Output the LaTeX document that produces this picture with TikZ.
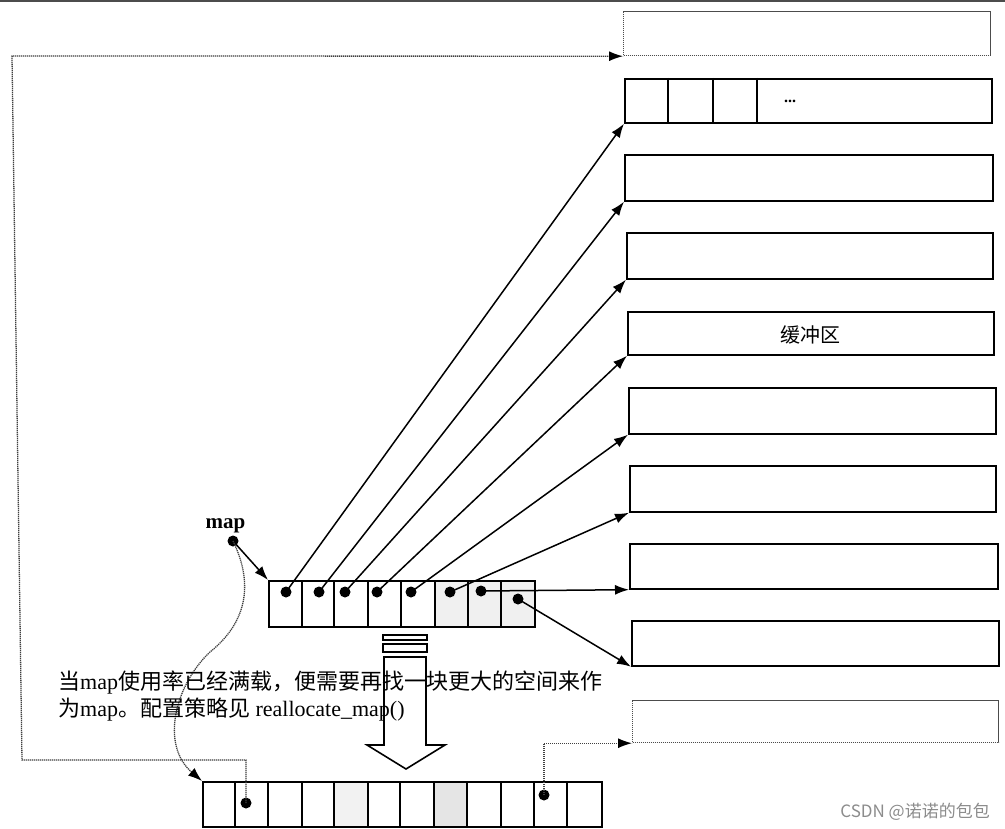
\documentclass[tikz,border=0pt]{standalone}
\usepackage{fontspec}
\setmainfont{Liberation Serif}
\newfontfamily\cjk{Noto Sans CJK SC}
\usetikzlibrary{arrows.meta}
\begin{document}
\begin{tikzpicture}[x=1pt,y=-1pt,
  box/.style={draw,line width=1.7pt,rectangle,inner sep=0pt,anchor=north west},
  dbox/.style={draw=black!70,line width=1.2pt,dash pattern=on 1.2pt off 0.8pt,rectangle,inner sep=0pt,anchor=north west},
  ptr/.style={line width=1.5pt,-{Latex[length=14pt,width=10pt]}},
  dotline/.style={draw=black!75,line width=1.3pt,dash pattern=on 1.2pt off 0.8pt},
  dotarrow/.style={dotline,-{Latex[length=14pt,width=10pt,color=black]}},
  pdot/.style={circle,fill=black,inner sep=0pt,minimum size=11pt},
  cellline/.style={line width=1.6pt},
]
\useasboundingbox (0,0) rectangle (1005,829);
\fill[white] (0,0) rectangle (1005,829);
\fill[black!70] (0,0) rectangle (1005,2.5);

% right-hand buffers
\node[dbox,minimum width=367pt,minimum height=44pt] (b1) at (623,11) {};
\node[box,minimum width=367pt,minimum height=44pt] (b2) at (624,78) {};
\draw[cellline] (668,78) -- (668,122) (713,78) -- (713,122) (757,78) -- (757,122);
\node[font=\fontsize{16}{16}\selectfont\bfseries] (dots) at (790,101) {...};
\node[box,minimum width=368pt,minimum height=46pt] (b3) at (624,154) {};
\node[box,minimum width=366pt,minimum height=46pt] (b4) at (626,232) {};
\node[box,minimum width=366pt,minimum height=43pt] (b5) at (627,311) {};
\node[font=\cjk\fontsize{20}{20}\selectfont] (buf) at (810,335) {缓冲区};
\node[box,minimum width=367pt,minimum height=46pt] (b6) at (628,387) {};
\node[box,minimum width=366pt,minimum height=46pt] (b7) at (629,465) {};
\node[box,minimum width=368pt,minimum height=45pt] (b8) at (629,543) {};
\node[box,minimum width=367pt,minimum height=45pt] (b9) at (631,620) {};
\node[dbox,minimum width=366pt,minimum height=42pt] (b10) at (632,700) {};

% map array
\fill[black!6] (435,580) rectangle (534,626);
\node[box,minimum width=266pt,minimum height=46pt] (ma) at (268,580) {};
\foreach \x in {302,334,368,401,435,468,501}
  \draw[cellline] (\x,580) -- (\x,626);
\node[pdot] (d1) at (286,592) {};
\node[pdot] (d2) at (319,592) {};
\node[pdot] (d3) at (345,592) {};
\node[pdot] (d4) at (377,592) {};
\node[pdot] (d5) at (411,592) {};
\node[pdot] (d6) at (450,592) {};
\node[pdot] (d7) at (481,591) {};
\node[pdot] (d8) at (518,599) {};

\draw[ptr] (d1.center) -- (b2.south west);
\draw[ptr] (d2.center) -- (b3.south west);
\draw[ptr] (d3.center) -- (b4.south west);
\draw[ptr] (d4.center) -- (b5.south west);
\draw[ptr] (d5.center) -- (b6.south west);
\draw[ptr] (d6.center) -- (b7.south west);
\draw[ptr] (d7.center) -- (b8.south west);
\draw[ptr] (d8.center) -- (b9.south west);

% map label
\node[anchor=base west,font=\fontsize{21}{21}\selectfont\bfseries] (maplbl) at (202,528) {map};
\node[pdot] (mapdot) at (233,541) {};
\draw[ptr] (mapdot.center) -- (ma.north west);

% bottom (new) array
\fill[black!5] (334,781) rectangle (368,826);
\fill[black!10] (434,781) rectangle (467,826);
\node[box,minimum width=399pt,minimum height=45pt] (ba) at (202,781) {};
\foreach \x in {235,268,302,334,368,400,434,467,501,534,567}
  \draw[cellline] (\x,781) -- (\x,826);
\node[pdot] (e2) at (246,803) {};
\node[pdot] (e11) at (544,795) {};

% dotted connectors
\draw[dotarrow] (mapdot.center) .. controls (252,580) and (250,620) .. (210,652)
   .. controls (175,685) and (160,745) .. (ba.north west);
\draw[dotarrow] (e2.center) -- (246,760) -- (22,760) -- (12,56) -- (b1.south west);
\draw[dotarrow] (e11.center) |- (b10.south west);

% hollow arrow
\draw[line width=1.5pt,fill=white] (383,635) rectangle (427,640);
\draw[line width=1.5pt,fill=white] (383,644) rectangle (427,652);
\draw[line width=1.6pt,fill=white] (384,657) -- (384,745) -- (367,745) -- (406,769)
   -- (445,745) -- (426,745) -- (426,657) -- cycle;

% caption
\node[anchor=base west,inner sep=0pt,font=\fontsize{22}{27}\selectfont] (t1) at (58,689)
  {{\cjk 当}map{\cjk 使用率已经满载，便需要再找一块更大的空间来作}};
\node[anchor=base west,inner sep=0pt,font=\fontsize{22}{27}\selectfont] (t2) at (58,716)
  {{\cjk 为}map{\cjk 。配置策略见} reallocate\_map()};

% watermark
\node[anchor=east,inner sep=0pt,text=black!45,font=\cjk\fontsize{17}{17}\selectfont] (wm) at (990,812) {CSDN @诺诺的包包};
\end{tikzpicture}
\end{document}
